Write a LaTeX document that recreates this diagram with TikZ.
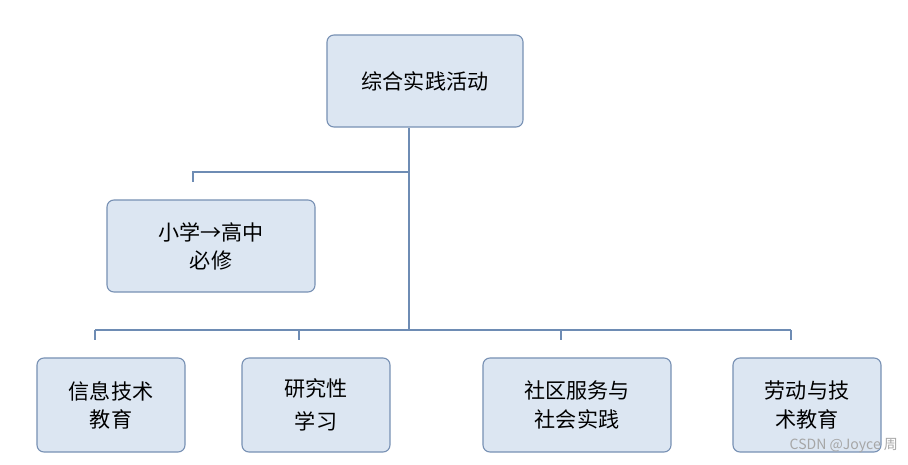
\documentclass[tikz,border=0pt]{standalone}
\usepackage{fontspec}
\setmainfont{Noto Sans CJK SC}
\usetikzlibrary{positioning}
\definecolor{boxfill}{RGB}{220, 230, 242}
\definecolor{boxline}{RGB}{120, 145, 180}
\definecolor{wirecol}{RGB}{110, 140, 180}

\begin{document}
\begin{tikzpicture}[x=0.025cm, y=-0.025cm,
		% Node styles
		topic/.style={draw=boxline, fill=boxfill, rounded corners=5pt, line width=0.8pt,
				font=\fontsize{15}{20}\selectfont, align=center, inner sep=0pt},
		wire/.style={draw=wirecol, line width=1pt}
	]
	\useasboundingbox (0,0) rectangle (908,465);

	% Main box
	\node[topic, minimum width=4.9cm, minimum height=2.3cm] (main) at (425,81) {综合实践活动};
	\node[topic, minimum width=5.2cm, minimum height=2.3cm] (req) at (211,246) {小学→高中\\必修};

	% Bottom boxes
	\node[topic, minimum width=3.7cm, minimum height=2.35cm] (info) at (111,405) {信息技术\\教育};
	\node[topic, minimum width=3.7cm, minimum height=2.35cm] (study) at (316,405) {研究性\\[4pt]学习};
	\node[topic, minimum width=4.7cm, minimum height=2.35cm] (social) at (577,405) {社区服务与\\社会实践};
	\node[topic, minimum width=3.7cm, minimum height=2.35cm] (labor) at (807,405) {劳动与技\\术教育};

	% Junction points
	\coordinate (top) at (409,128);
	\coordinate (mid) at (409,172);
	\coordinate (low) at (409,330);
	\coordinate (midl) at (193,172);
	\coordinate (midt) at (193,182);
	\foreach \n/\x in {a/95, b/299, c/561, d/791} {
		\coordinate (bar\n) at (\x,330);
		\coordinate (tick\n) at (\x,340);
	}

	% Connections
	\draw[wire] (top) -- (low);
	\draw[wire] (mid) -- (midl) -- (midt);
	\draw[wire] (bara) -- (bard);
	\foreach \n in {a,b,c,d}
		\draw[wire] (bar\n) -- (tick\n);

	% Watermark
	\node[text=gray!70, font=\fontsize{10}{12}\selectfont, anchor=east] (mark) at (903,446) {CSDN @Joyce 周};
\end{tikzpicture}
\end{document}
